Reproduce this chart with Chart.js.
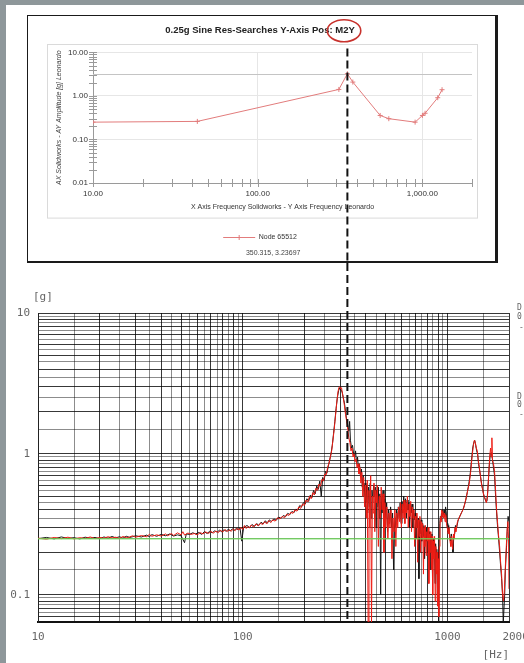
<!DOCTYPE html>
<html>
<head>
<meta charset="utf-8">
<script src="https://cdn.jsdelivr.net/npm/chart.js@4.4.1/dist/chart.umd.min.js"></script>
<style>
  body { margin: 0; width: 524px; height: 663px; overflow: hidden; background: #8e979a; position: relative; }
  #paper { position: absolute; left: 6px; top: 5px; width: 518px; height: 658px; background: #fff; }
  #topBox { position: absolute; left: 27px; top: 15px; width: 467px; height: 245px; background: #fff;
            border: 1px solid #1a1a1a; border-right-width: 3px; border-bottom-width: 2px; }
  #topBox canvas { display: block; }
  #botChart { position: absolute; left: 6px; top: 263px; }
</style>
</head>
<body>
<div id="paper"></div>
<div id="topBox"><canvas id="topChart" width="467" height="245"></canvas></div>
<canvas id="botChart" width="518" height="400"></canvas>
<script>
// ---- upper plot: simulation node response ----
var topTitle = '0.25g Sine Res-Searches Y-Axis Pos: M2Y';
var topSeriesName = 'Node 65512';
var topXTitle = 'X Axis Frequency Solidworks - Y Axis Frequency Leonardo';
var topYTitle = 'AX Solidworks - AY Amplitude [g] Leonardo';
var topFreq = [10, 43, 311, 350.315, 378, 554, 625, 903, 1000, 1038, 1239, 1316];
var topAmp = [0.25, 0.26, 1.41, 3.23697, 2.08, 0.356, 0.30, 0.25, 0.356, 0.40, 0.91, 1.39];
var cursorFreq = 350.315;
var cursorAmp = 3.23697;
var topXTicks = [10, 20, 30, 40, 50, 60, 70, 80, 90, 100, 200, 300, 400, 500, 600, 700, 800, 900, 1000, 2000];
var topXLabels = [10, 100, 1000];
var topYTicks = [0.01, 0.02, 0.03, 0.04, 0.05, 0.06, 0.07, 0.08, 0.09, 0.1, 0.2, 0.3, 0.4, 0.5, 0.6, 0.7, 0.8, 0.9,
                 1, 2, 3, 4, 5, 6, 7, 8, 9, 10];
var topYLabels = [0.01, 0.1, 1, 10];

// ---- lower plot: measured sine sweep ----
var freqMin = 10, freqMax = 2000;
var ampMin = 0.064, ampMax = 10;
var refLevel = 0.25;
var botXTicks = [10, 15, 20, 25, 30, 35, 40, 45, 50, 55, 60, 65, 70, 75, 80, 85, 90, 95, 100,
                 150, 200, 250, 300, 350, 400, 450, 500, 550, 600, 650, 700, 750, 800, 850, 900, 950, 1000, 1500, 2000];
var botXLabels = [10, 100, 1000, 2000];
var botYTicks = [0.065, 0.07, 0.075, 0.08, 0.085, 0.09, 0.095, 0.1, 0.15, 0.2, 0.25, 0.3, 0.35, 0.4, 0.45, 0.5,
                 0.55, 0.6, 0.65, 0.7, 0.75, 0.8, 0.85, 0.9, 0.95, 1, 1.5, 2, 2.5, 3, 3.5, 4, 4.5, 5, 5.5, 6,
                 6.5, 7, 7.5, 8, 8.5, 9, 9.5, 10];
var botYLabels = [0.1, 1, 10];

var redFreq = [
  10, 11, 12, 13, 14, 15, 16, 17, 18, 19,
  20, 21, 22, 23, 24, 25, 26, 27, 28, 29,
  30, 32, 34, 35, 36, 38, 40, 42, 43, 45,
  46, 48, 50, 51, 52, 54, 56, 58, 60, 62,
  64, 66, 68, 70, 72, 74, 76, 78, 80, 82,
  84, 86, 88, 90, 92, 94, 96, 98, 100, 102,
  104, 106, 108, 110, 113, 116, 119, 122, 125, 128,
  131, 134, 137, 140, 144, 148, 152, 156, 160, 164,
  168, 172, 176, 180, 184, 188, 192, 196, 200, 204,
  208, 212, 216, 220, 224, 228, 232, 236, 240, 244,
  248, 252, 256, 260, 264, 268, 272, 276, 280, 284,
  288, 292, 295, 298, 301, 304, 307, 310, 314, 318,
  322, 326, 330, 334, 338, 342, 346, 350, 354, 358,
  362, 366, 370, 374, 378, 382, 386, 390, 394, 398,
  402, 406, 410, 414, 418, 422, 426, 430, 434, 438,
  442, 446, 450, 455, 460, 465, 470, 475, 480, 485,
  490, 495, 500, 506, 512, 518, 524, 530, 536, 542,
  548, 554, 560, 566, 572, 578, 584, 590, 596, 602,
  608, 614, 620, 626, 632, 638, 644, 650, 656, 662,
  668, 674, 680, 686, 692, 698, 704, 710, 716, 722,
  728, 734, 740, 746, 752, 758, 764, 770, 776, 782,
  788, 794, 800, 806, 812, 818, 824, 830, 836, 842,
  848, 854, 860, 866, 872, 878, 884, 890, 896, 902,
  908, 914, 920, 926, 932, 938, 944, 950, 958, 966,
  974, 982, 990, 998, 1010, 1020, 1030, 1040, 1050, 1060,
  1070, 1080, 1090, 1100, 1120, 1140, 1160, 1180, 1200, 1220,
  1240, 1260, 1280, 1300, 1320, 1340, 1355, 1370, 1385, 1400,
  1415, 1430, 1450, 1470, 1490, 1510, 1530, 1550, 1570, 1590,
  1610, 1625, 1640, 1650, 1660, 1680, 1700, 1720, 1740, 1760,
  1780, 1800, 1820, 1840, 1860, 1880, 1900, 1920, 1940, 1960,
  1975, 1990, 2000];
var redAmp = [
  .252, .248, .255, .250, .256, .249, .254, .251, .257, .250,
  .255, .252, .258, .253, .256, .251, .259, .254, .257, .262,
  .256, .263, .258, .268, .260, .266, .261, .270, .262, .272,
  .263, .275, .266, .280, .265, .274, .268, .272, .266, .276,
  .270, .279, .272, .281, .274, .283, .276, .286, .279, .290,
  .281, .288, .283, .292, .285, .296, .288, .300, .290, .310,
  .295, .305, .298, .312, .302, .318, .308, .322, .315, .330,
  .318, .336, .325, .340, .333, .352, .345, .360, .352, .372,
  .365, .385, .378, .400, .392, .420, .410, .440, .430, .470,
  .455, .500, .480, .530, .510, .570, .550, .610, .590, .660,
  .640, .720, .710, .800, .860, .950, 1.05, 1.25, 1.50, 1.85,
  2.30, 2.75, 2.95, 3.00, 2.90, 2.95, 2.70, 2.50, 2.20, 1.90,
  1.70, 1.50, 1.30, 1.20, 1.05, 1.10, 0.95, 1.00, 0.88, 0.92,
  0.80, 0.85, 0.72, 0.80, 0.62, 0.74, 0.50, 0.68, 0.42, 0.60,
  0.35, 0.65, 0.063, 0.55, 0.30, 0.70, 0.063, 0.50, 0.38, 0.62,
  0.28, 0.55, 0.45, 0.60, 0.22, 0.50, 0.35, 0.58, 0.40, 0.52,
  0.20, 0.45, 0.30, 0.42, 0.25, 0.38, 0.30, 0.40, 0.18, 0.35,
  0.28, 0.40, 0.22, 0.38, 0.30, 0.42, 0.33, 0.45, 0.30, 0.44,
  0.35, 0.47, 0.32, 0.45, 0.38, 0.50, 0.30, 0.44, 0.36, 0.46,
  0.28, 0.42, 0.35, 0.40, 0.22, 0.36, 0.30, 0.38, 0.17, 0.34,
  0.26, 0.36, 0.20, 0.33, 0.25, 0.32, 0.14, 0.30, 0.22, 0.31,
  0.19, 0.28, 0.24, 0.30, 0.12, 0.27, 0.20, 0.28, 0.15, 0.26,
  0.10, 0.24, 0.18, 0.26, 0.09, 0.22, 0.14, 0.20, 0.083, 0.18,
  0.07, 0.22, 0.30, 0.36, 0.33, 0.40, 0.36, 0.39, 0.35, 0.38,
  0.33, 0.37, 0.32, 0.30, 0.27, 0.30, 0.24, 0.22, 0.26, 0.21,
  0.27, 0.25, 0.30, 0.28, 0.33, 0.35, 0.37, 0.39, 0.41, 0.45,
  0.50, 0.56, 0.62, 0.75, 0.95, 1.15, 1.25, 1.20, 1.10, 1.05,
  0.90, 0.82, 0.70, 0.60, 0.55, 0.50, 0.48, 0.45, 0.50, 0.70,
  0.95, 1.10, 0.95, 1.30, 0.90, 0.85, 0.75, 0.55, 0.40, 0.32,
  0.26, 0.22, 0.17, 0.14, 0.10, 0.09, 0.11, 0.16, 0.22, 0.30,
  0.33, 0.25, 0.11];

var blackFreq = [
  10, 11, 12, 13, 14, 15, 16, 17, 18, 19,
  20, 21, 22, 23, 24, 25, 26, 27, 28, 29,
  30, 32, 34, 35, 36, 38, 40, 42, 44, 46,
  48, 50, 52, 53, 55, 57, 59, 61, 63, 65,
  67, 69, 71, 73, 75, 77, 79, 81, 83, 85,
  87, 89, 91, 93, 95, 97, 99, 101, 105, 108,
  111, 114, 117, 120, 123, 126, 129, 132, 135, 138,
  142, 146, 150, 154, 158, 162, 166, 170, 174, 178,
  182, 186, 190, 194, 198, 202, 206, 210, 214, 218,
  222, 226, 230, 234, 238, 242, 246, 250, 254, 258,
  262, 266, 270, 274, 278, 282, 286, 290, 294, 298,
  302, 306, 310, 314, 318, 322, 326, 330, 333, 336,
  340, 344, 348, 352, 356, 360, 364, 368, 372, 376,
  380, 384, 388, 392, 396, 400, 404, 408, 412, 416,
  420, 424, 428, 432, 436, 440, 444, 448, 452, 456,
  460, 464, 468, 472, 476, 480, 485, 490, 495, 500,
  505, 510, 516, 522, 528, 534, 540, 546, 552, 558,
  564, 570, 576, 582, 588, 594, 600, 606, 612, 618,
  624, 630, 636, 642, 648, 654, 660, 666, 672, 678,
  684, 690, 696, 702, 708, 714, 720, 726, 732, 738,
  744, 750, 756, 762, 768, 774, 780, 786, 792, 798,
  804, 810, 816, 822, 828, 834, 840, 846, 852, 858,
  864, 870, 876, 882, 888, 894, 900, 906, 912, 918,
  924, 930, 936, 942, 948, 956, 964, 972, 980, 988,
  996, 1005, 1015, 1025, 1035, 1045, 1055, 1065, 1075, 1085,
  1095, 1110, 1130, 1150, 1170, 1190, 1210, 1230, 1250, 1270,
  1290, 1310, 1330, 1345, 1360, 1375, 1390, 1405, 1420, 1440,
  1460, 1480, 1500, 1520, 1540, 1560, 1580, 1600, 1620, 1640,
  1660, 1680, 1700, 1720, 1740, 1760, 1780, 1800, 1820, 1840,
  1860, 1875, 1890, 1905, 1920, 1940, 1960, 1980, 2000];
var blackAmp = [
  .250, .255, .249, .257, .251, .254, .249, .256, .252, .255,
  .250, .257, .252, .259, .253, .258, .252, .260, .255, .258,
  .262, .257, .265, .258, .267, .260, .268, .262, .270, .261,
  .266, .262, .234, .270, .268, .275, .270, .277, .268, .280,
  .272, .282, .275, .284, .278, .287, .280, .289, .282, .291,
  .284, .293, .287, .295, .290, .298, .240, .300, .310, .300,
  .315, .305, .320, .310, .327, .318, .335, .322, .340, .330,
  .345, .338, .356, .348, .365, .358, .378, .370, .390, .382,
  .405, .398, .430, .420, .450, .440, .480, .460, .510, .490,
  .550, .520, .590, .560, .640, .500, .680, .650, .750, .730,
  .820, .900, 1.00, 1.15, 1.40, 1.70, 2.10, 2.50, 2.80, 2.95,
  2.85, 2.75, 2.50, 2.30, 2.00, 1.75, 1.60, 1.45, 1.70, 1.25,
  1.10, 1.15, 1.00, 0.95, 1.05, 0.85, 0.95, 0.78, 0.85, 0.70,
  0.78, 0.58, 0.70, 0.50, 0.62, 0.45, 0.60, 0.38, 0.58, 0.42,
  0.62, 0.35, 0.55, 0.45, 0.60, 0.50, 0.58, 0.30, 0.55, 0.42,
  0.58, 0.35, 0.52, 0.10, 0.50, 0.38, 0.55, 0.30, 0.48, 0.35,
  0.45, 0.28, 0.40, 0.32, 0.42, 0.30, 0.38, 0.15, 0.36, 0.30,
  0.40, 0.33, 0.42, 0.35, 0.45, 0.32, 0.46, 0.38, 0.50, 0.40,
  0.48, 0.35, 0.47, 0.40, 0.45, 0.30, 0.44, 0.38, 0.44, 0.30,
  0.40, 0.34, 0.38, 0.25, 0.36, 0.30, 0.35, 0.13, 0.33, 0.27,
  0.34, 0.24, 0.32, 0.26, 0.31, 0.18, 0.30, 0.24, 0.30, 0.20,
  0.28, 0.23, 0.28, 0.15, 0.26, 0.20, 0.27, 0.13, 0.25, 0.20,
  0.24, 0.12, 0.23, 0.17, 0.21, 0.10, 0.20, 0.063, 0.25, 0.32,
  0.36, 0.34, 0.38, 0.36, 0.40, 0.37, 0.40, 0.36, 0.42, 0.38,
  0.32, 0.28, 0.31, 0.26, 0.24, 0.27, 0.23, 0.20, 0.26, 0.27,
  0.31, 0.30, 0.34, 0.36, 0.38, 0.40, 0.43, 0.47, 0.53, 0.60,
  0.70, 0.88, 1.10, 1.20, 1.25, 1.15, 1.05, 1.00, 0.85, 0.75,
  0.65, 0.58, 0.52, 0.49, 0.46, 0.46, 0.58, 0.80, 1.00, 1.02,
  0.92, 0.80, 0.70, 0.50, 0.38, 0.30, 0.25, 0.20, 0.16, 0.13,
  0.10, 0.063, 0.063, 0.10, 0.15, 0.20, 0.28, 0.36, 0.33];

var sansFont = '"Liberation Sans", Arial, sans-serif';
var monoFont = '"DejaVu Sans Mono", "Liberation Mono", monospace';
var topLineColor = '#e27c7c';
var dashPageX = null;

function pairs(xs, ys) {
    return xs.map(function (x, i) { return { x: x, y: ys[i] }; });
}
function isIntMultiple(v) {
    var m = v / Math.pow(10, Math.floor(Math.log10(v) + 1e-9));
    return Math.abs(m - Math.round(m)) < 1e-6;
}
function setTicks(list) {
    return function (scale) {
        scale.ticks = list.map(function (v) { return { value: v }; });
    };
}
function drawDash(ctx, x, y0, y1) {
    ctx.save();
    ctx.strokeStyle = '#111';
    ctx.lineWidth = 2;
    ctx.setLineDash([8, 4]);
    ctx.beginPath();
    ctx.moveTo(x, y0);
    ctx.lineTo(x, y1);
    ctx.stroke();
    ctx.restore();
}

var topExtras = {
    id: 'topExtras',
    beforeDraw: function (chart) {
        var a = chart.chartArea, ctx = chart.ctx;
        ctx.save();
        ctx.strokeStyle = '#dadada';
        ctx.lineWidth = 1;
        ctx.strokeRect(Math.round(a.left - 46) + 0.5, Math.round(a.top - 8) + 0.5, a.right - a.left + 51, a.bottom - a.top + 43);
        ctx.restore();
    },
    beforeDatasetsDraw: function (chart) {
        var a = chart.chartArea, ctx = chart.ctx;
        var y = Math.round(chart.scales.y.getPixelForValue(cursorAmp)) + 0.5;
        ctx.save();
        ctx.strokeStyle = '#c4c4c4';
        ctx.lineWidth = 1;
        ctx.beginPath();
        ctx.moveTo(a.left, y);
        ctx.lineTo(a.right, y);
        ctx.stroke();
        ctx.restore();
    },
    afterDraw: function (chart) {
        var a = chart.chartArea, ctx = chart.ctx;
        var xs = chart.scales.x, ys = chart.scales.y;
        ctx.save();
        // tick marks crossing the axes
        ctx.strokeStyle = '#9a9a9a';
        ctx.lineWidth = 1;
        ctx.beginPath();
        xs.ticks.forEach(function (t) {
            var px = Math.round(xs.getPixelForValue(t.value)) + 0.5;
            ctx.moveTo(px, a.bottom - 4);
            ctx.lineTo(px, a.bottom + 4);
        });
        ys.ticks.forEach(function (t) {
            var py = Math.round(ys.getPixelForValue(t.value)) + 0.5;
            ctx.moveTo(a.left - 4, py);
            ctx.lineTo(a.left + 4, py);
        });
        ctx.stroke();

        // red ring round the position name in the title
        var tb = chart.titleBlock;
        var tf = Chart.helpers.toFont(chart.options.plugins.title.font);
        ctx.font = tf.string;
        var words = topTitle.split(' ');
        var last = words[words.length - 1];
        var fullW = ctx.measureText(topTitle).width;
        var lastW = ctx.measureText(last).width;
        var cx = (tb.left + tb.right) / 2 + fullW / 2 - lastW / 2;
        var cy = tb.top + chart.options.plugins.title.padding.top + tf.lineHeight / 2;
        ctx.strokeStyle = '#c8322d';
        ctx.lineWidth = 1.6;
        ctx.beginPath();
        ctx.ellipse(cx - 1, cy, lastW / 2 + 7, 11, 0, 0, Math.PI * 2);
        ctx.stroke();

        // cross marker on the legend line
        var hb = chart.legend.legendHitBoxes[0];
        var lx = hb.left + 16, ly = hb.top + hb.height / 2;
        ctx.strokeStyle = topLineColor;
        ctx.lineWidth = 1;
        ctx.beginPath();
        ctx.moveTo(lx, ly - 2.5); ctx.lineTo(lx, ly + 2.5);
        ctx.stroke();

        // cursor readout under the legend
        ctx.fillStyle = '#444';
        ctx.font = '7px ' + sansFont;
        ctx.textAlign = 'center';
        ctx.textBaseline = 'middle';
        ctx.fillText(cursorFreq + ', ' + cursorAmp, hb.left + 50, ly + 16);
        ctx.restore();

        // dashed cursor line
        var px = xs.getPixelForValue(cursorFreq);
        drawDash(ctx, px, a.top - 4, chart.height);
    }
};

var topChart = new Chart(document.getElementById('topChart'), {
    type: 'scatter',
    data: {
        datasets: [{
            label: topSeriesName,
            data: pairs(topFreq, topAmp),
            showLine: true,
            borderColor: topLineColor,
            backgroundColor: topLineColor,
            borderWidth: 1,
            pointStyle: 'cross',
            pointRadius: 2.5,
            pointBorderWidth: 1,
            tension: 0
        }]
    },
    options: {
        responsive: false,
        animation: false,
        events: [],
        layout: { padding: { left: 20, right: 23, top: 0, bottom: 10 } },
        scales: {
            x: {
                type: 'logarithmic',
                min: freqMin,
                max: freqMax,
                afterBuildTicks: setTicks(topXTicks),
                afterFit: function (scale) { scale.height = 47; },
                border: { color: '#9a9a9a' },
                grid: {
                    drawTicks: false,
                    color: function (ctx) {
                        var v = ctx.tick && ctx.tick.value;
                        return (v === 100 || v === 1000) ? '#e6e6e6' : 'rgba(0,0,0,0)';
                    }
                },
                ticks: {
                    autoSkip: false,
                    maxRotation: 0,
                    padding: 6,
                    color: '#333',
                    font: { family: sansFont, size: 8 },
                    callback: function (v) {
                        return topXLabels.indexOf(v) >= 0 ? v.toLocaleString('en-US', { minimumFractionDigits: 2, maximumFractionDigits: 2 }) : '';
                    }
                },
                title: {
                    display: true,
                    text: topXTitle,
                    color: '#333',
                    font: { family: sansFont, size: 7 },
                    padding: { top: 0, bottom: 19 }
                }
            },
            y: {
                type: 'logarithmic',
                min: 0.01,
                max: 10,
                afterBuildTicks: setTicks(topYTicks),
                afterFit: function (scale) { scale.width = 45; },
                border: { color: '#9a9a9a' },
                grid: {
                    drawTicks: false,
                    color: function (ctx) {
                        var v = ctx.tick && ctx.tick.value;
                        return (v === 0.1 || v === 1 || v === 10) ? '#e6e6e6' : 'rgba(0,0,0,0)';
                    }
                },
                ticks: {
                    autoSkip: false,
                    padding: 5,
                    color: '#333',
                    font: { family: sansFont, size: 8 },
                    callback: function (v) {
                        return topYLabels.indexOf(v) >= 0 ? v.toFixed(2) : '';
                    }
                },
                title: {
                    display: true,
                    text: topYTitle,
                    color: '#444',
                    font: { family: sansFont, size: 7, style: 'italic' },
                    padding: { top: 7, bottom: 0 }
                }
            }
        },
        plugins: {
            tooltip: { enabled: false },
            title: {
                display: true,
                text: topTitle,
                color: '#222',
                font: { family: sansFont, size: 9.5 },
                padding: { top: 9, bottom: 16 }
            },
            legend: {
                position: 'bottom',
                labels: {
                    boxWidth: 32,
                    boxHeight: 1,
                    padding: 4,
                    color: '#333',
                    font: { family: sansFont, size: 7 },
                    generateLabels: function (chart) {
                        var items = Chart.defaults.plugins.legend.labels.generateLabels(chart);
                        items.forEach(function (it) { it.lineWidth = 0; });
                        return items;
                    }
                }
            }
        }
    },
    plugins: [topExtras]
});

// page position of the cursor line, shared with the lower plot
dashPageX = document.getElementById('topChart').getBoundingClientRect().left +
    topChart.scales.x.getPixelForValue(cursorFreq);

var botExtras = {
    id: 'botExtras',
    afterDraw: function (chart) {
        var a = chart.chartArea, ctx = chart.ctx;
        ctx.save();
        ctx.fillStyle = '#666';
        ctx.font = '11px ' + monoFont;
        ctx.textBaseline = 'middle';
        ctx.textAlign = 'left';
        ctx.fillText('[g]', a.left - 5, a.top - 16);
        // clipped side legend
        ctx.font = '8px ' + monoFont;
        ctx.fillText('D', a.right + 8, a.top - 5);
        ctx.fillText('0', a.right + 8, a.top + 4);
        ctx.fillText('-', a.right + 10, a.top + 15);
        ctx.fillText('D', a.right + 8, a.top + 84);
        ctx.fillText('0', a.right + 8, a.top + 92);
        ctx.fillText('-', a.right + 10, a.top + 102);
        ctx.restore();

        var left = chart.canvas.getBoundingClientRect().left;
        drawDash(ctx, dashPageX - left, 0, a.bottom);
    }
};

function botGridColor(ctx) {
    var v = ctx.tick && ctx.tick.value;
    if (!v) return 'rgba(0,0,0,0)';
    return isIntMultiple(v) ? 'rgba(0,0,0,0.78)' : 'rgba(0,0,0,0.45)';
}

var botChart = new Chart(document.getElementById('botChart'), {
    type: 'scatter',
    data: {
        datasets: [{
            label: 'reference',
            data: [{ x: freqMin, y: refLevel }, { x: freqMax, y: refLevel }],
            showLine: true,
            borderColor: 'rgba(110, 215, 90, 0.8)',
            borderWidth: 1.5,
            pointRadius: 0
        }, {
            label: 'run 2',
            data: pairs(redFreq, redAmp),
            showLine: true,
            borderColor: '#ee1c14',
            borderWidth: 1,
            pointRadius: 0,
            tension: 0
        }, {
            label: 'run 1',
            data: pairs(blackFreq, blackAmp),
            showLine: true,
            borderColor: '#141414',
            borderWidth: 1,
            pointRadius: 0,
            tension: 0
        }]
    },
    options: {
        responsive: false,
        animation: false,
        events: [],
        layout: { padding: { left: 0, right: 15, top: 50, bottom: 0 } },
        scales: {
            x: {
                type: 'logarithmic',
                min: freqMin,
                max: freqMax,
                afterBuildTicks: setTicks(botXTicks),
                afterFit: function (scale) {
                    scale.height = 41;
                    scale.paddingLeft = 0;
                    scale.paddingRight = 0;
                },
                border: { color: '#111', width: 2 },
                grid: { drawTicks: false, color: botGridColor },
                ticks: {
                    autoSkip: false,
                    maxRotation: 0,
                    padding: 9,
                    color: '#666',
                    font: { family: monoFont, size: 11 },
                    callback: function (v) {
                        if (botXLabels.indexOf(v) < 0) return '';
                        // last label sits right of its tick, as in the original printout
                        return v === freqMax ? '  ' + v : String(v);
                    }
                },
                title: {
                    display: true,
                    text: '[Hz]',
                    align: 'end',
                    color: '#666',
                    font: { family: monoFont, size: 11 },
                    padding: { top: 0, bottom: 1 }
                }
            },
            y: {
                type: 'logarithmic',
                min: ampMin,
                max: ampMax,
                afterBuildTicks: setTicks(botYTicks),
                afterFit: function (scale) { scale.width = 32; },
                border: { color: '#222', width: 1 },
                grid: { drawTicks: false, color: botGridColor },
                ticks: {
                    autoSkip: false,
                    padding: 8,
                    color: '#666',
                    font: { family: monoFont, size: 11 },
                    callback: function (v) { return botYLabels.indexOf(v) >= 0 ? String(v) : ''; }
                }
            }
        },
        plugins: {
            tooltip: { enabled: false },
            legend: { display: false }
        }
    },
    plugins: [botExtras]
});
</script>
</body>
</html>
